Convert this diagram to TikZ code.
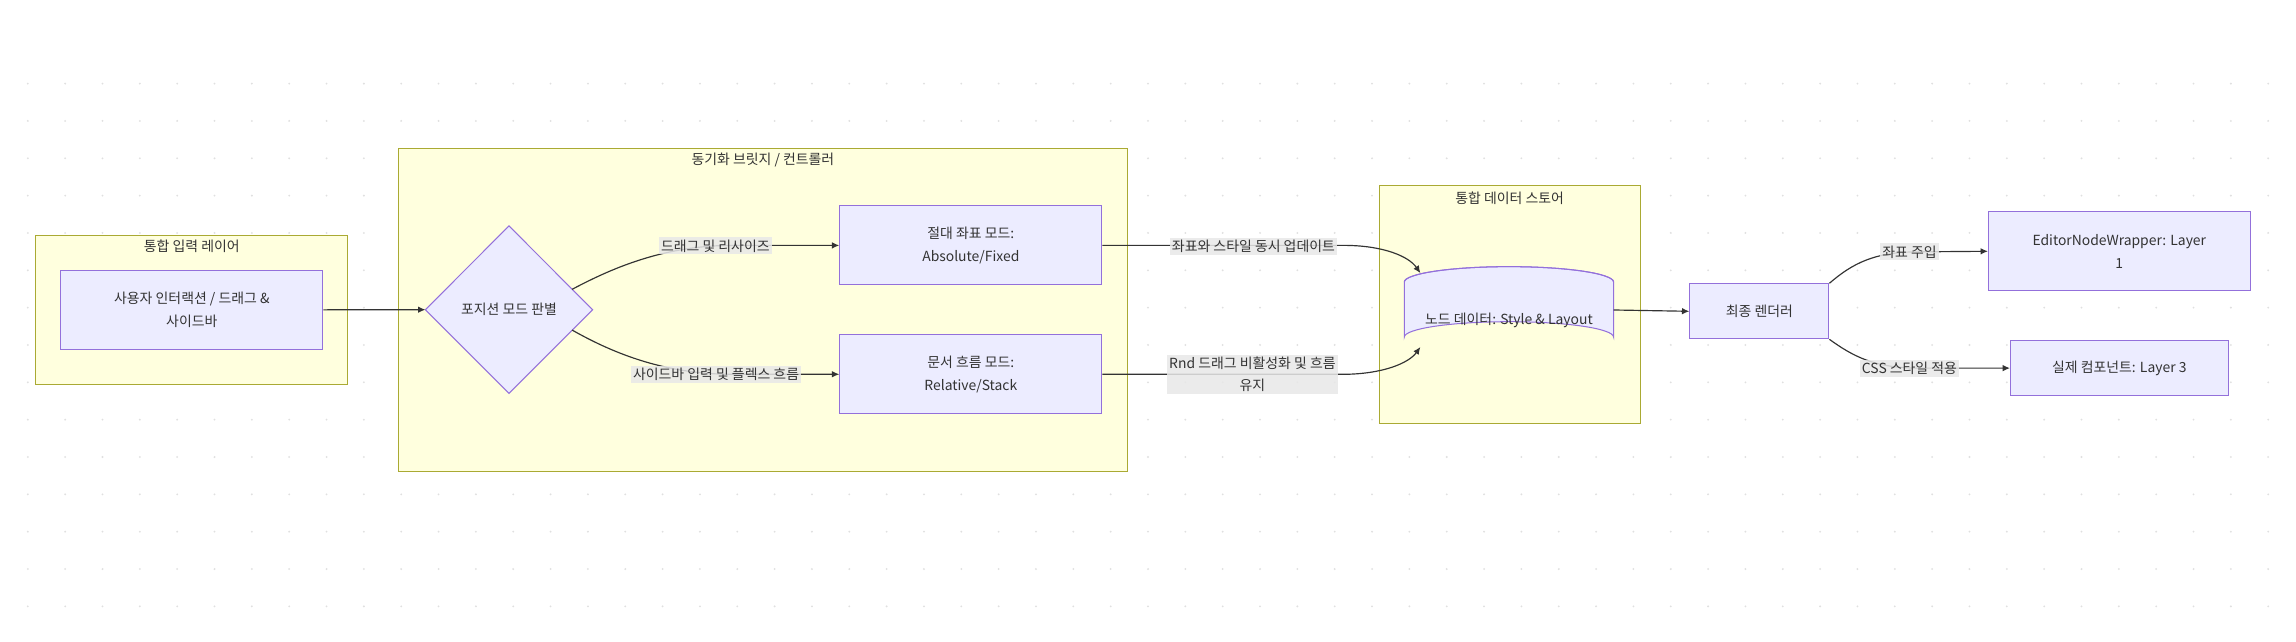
\documentclass[tikz,border=0pt]{standalone}
\usepackage{fontspec}
\setmainfont{Noto Sans CJK KR}
\begin{document}
\begin{tikzpicture}[x=1pt,y=-1pt,
  sg/.style={draw=sgb,fill=sgf,line width=0.7pt},
  nd/.style={draw=ndb,fill=ndf,line width=0.7pt,align=center,inner sep=0pt},
  edge/.style={draw=ed,line width=0.8pt},
  arr/.style={edge,-{Latex[length=5pt,width=4.5pt]}},
  lab/.style={fill=lbg,fill opacity=0.85,text opacity=1,inner sep=1.5pt,align=center,font=\fontsize{9.5}{15}\selectfont},
  ttl/.style={font=\fontsize{9.5}{12}\selectfont,text=ed},
  every node/.style={font=\fontsize{9.5}{16}\selectfont,text=ed}]
\definecolor{sgf}{HTML}{FFFFDE}\definecolor{sgb}{HTML}{AAAA33}
\definecolor{ndf}{HTML}{ECECFF}\definecolor{ndb}{HTML}{9370DB}
\definecolor{ed}{HTML}{333333}\definecolor{lbg}{HTML}{E8E8E8}
\usetikzlibrary{arrows.meta}
\useasboundingbox (0,0) rectangle (1568,438);
\fill[white] (0,0) rectangle (1568,438);
\foreach \i in {0,...,60}{\foreach \j in {0,...,14}{
  \fill[black!12] (19+25.5*\i,57.1+25.5*\j) circle (0.7);}}
% subgraphs
\draw[sg] (24.5,160.7) rectangle (237.5,262.5);
\node[ttl] (t1) at (131,168.5) {통합 입력 레이어};
\draw[sg] (272,101.3) rectangle (769.8,321.7);
\node[ttl] (t2) at (521,109.3) {동기화 브릿지 / 컨트롤러};
\draw[sg] (941.9,126.8) rectangle (1120,289.4);
\node[ttl] (t3) at (1031,135.4) {통합 데이터 스토어};
% nodes
\node[nd,minimum width=179,minimum height=54] (user) at (131,211.6) {사용자 인터랙션 / 드래그 \&\\사이드바};
\node[nd,draw,shape=rectangle,opacity=0] (dmbox) at (347.6,211.5) {};
\fill[ndf,draw=ndb,line width=0.7pt] (347.6,154.3) -- (404.7,211.5) -- (347.6,268.6) -- (290.5,211.5) -- cycle;
\node (dm) at (347.6,211.5) {포지션 모드 판별};
\coordinate (dmw) at (290.5,211.5);
\coordinate (dmne) at (390.7,197.6);
\coordinate (dmse) at (390.7,225.4);
\node[nd,minimum width=179,minimum height=54] (abs) at (663,167.6) {절대 좌표 모드:\\Absolute/Fixed};
\node[nd,minimum width=179,minimum height=54] (rel) at (663,255.6) {문서 흐름 모드:\\Relative/Stack};
% cylinder
\fill[ndf,draw=ndb,line width=0.7pt] (959,192.7) -- (959,230.3) arc[start angle=180,end angle=360,x radius=71.5,y radius=10.6] -- (1102,192.7) arc[start angle=0,end angle=-180,x radius=71.5,y radius=10.6];
\draw[ndb,line width=0.7pt] (959,192.7) arc[start angle=180,end angle=360,x radius=71.5,y radius=10.6];
\node (db) at (1030.5,219) {노드 데이터: Style \& Layout};
\coordinate (dbe) at (1102,211.7);
\coordinate (dbt) at (970,186.5);
\coordinate (dbb) at (970,237);
\node[nd,minimum width=95,minimum height=37.6] (rend) at (1201.5,212.6) {최종 렌더러};
\node[nd,minimum width=178.7,minimum height=53.7] (edw) at (1447.3,171.6) {EditorNodeWrapper: Layer\\1};
\node[nd,minimum width=148.6,minimum height=37.6] (real) at (1447.3,251.4) {실제 컴포넌트: Layer 3};
% edges
\draw[arr] (user.east) -- (dmw);
\draw[arr] (dmne) .. controls (420,182) and (455,167.6) .. (500,167.6) -- (abs.west);
\draw[arr] (dmse) .. controls (420,242) and (455,255.6) .. (500,255.6) -- (rel.west);
\draw[arr] (abs.east) -- (920,167.6) .. controls (945,168) and (962,175) .. (dbt);
\draw[arr] (rel.east) -- (920,255.6) .. controls (945,255) and (962,248) .. (dbb);
\draw[arr] (dbe) -- (rend.west);
\draw[arr] (rend.north east) .. controls (1265,180) and (1280,172) .. (1310,172) -- (edw.west);
\draw[arr] (rend.south east) .. controls (1265,243) and (1280,251.4) .. (1310,251.4) -- (real.west);
% labels
\node[lab] (l1) at (488.5,168) {드래그 및 리사이즈};
\node[lab] (l2) at (489,255.7) {사이드바 입력 및 플렉스 흐름};
\node[lab] (l3) at (856,168.4) {좌표와 스타일 동시 업데이트};
\node[lab] (l4) at (855.3,255.7) {Rnd 드래그 비활성화 및 흐름\\유지};
\node[lab] (l5) at (1304,172) {좌표 주입};
\node[lab] (l6) at (1304,251.5) {CSS 스타일 적용};
\end{tikzpicture}
\end{document}
